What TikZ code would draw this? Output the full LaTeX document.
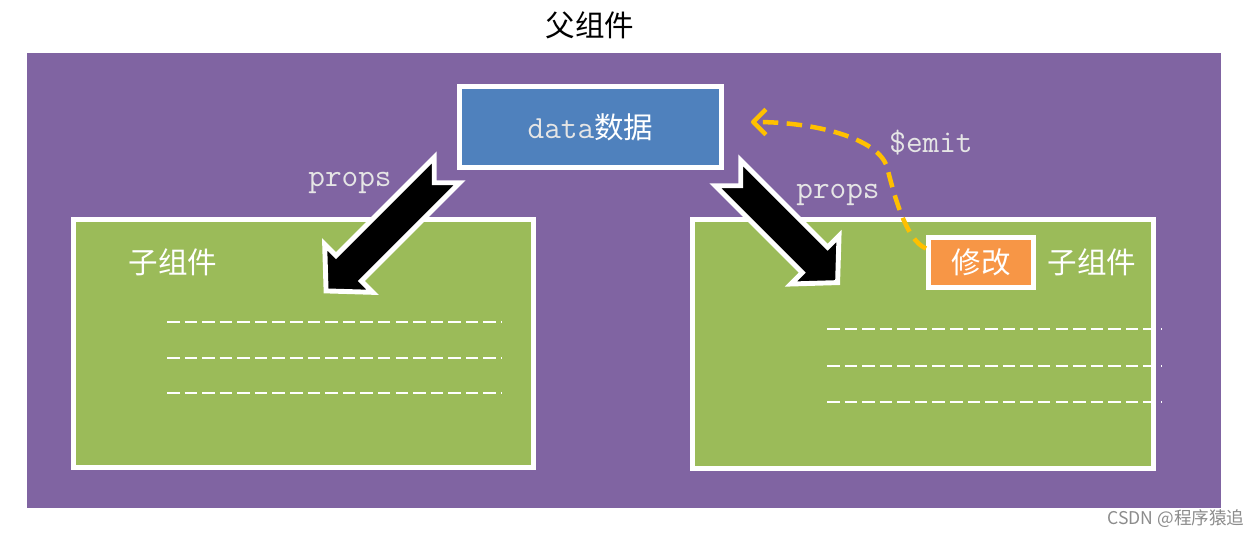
\documentclass[tikz,border=0pt]{standalone}
\usepackage{fontspec}
\newfontfamily\cjk{Noto Sans CJK SC}
\usetikzlibrary{arrows.meta,shadows,calc}

\definecolor{parentpurple}{HTML}{8064A2}
\definecolor{childgreen}{HTML}{9BBB59}
\definecolor{datablue}{HTML}{4F81BD}
\definecolor{fixorange}{HTML}{F79646}
\definecolor{emitgold}{HTML}{FFC000}

\begin{document}
\begin{tikzpicture}[x=0.025cm, y=-0.025cm,
  softshadow/.style={drop shadow={shadow xshift=1.5pt, shadow yshift=-1.5pt, opacity=.35, fill=black}},
  compbox/.style={draw=white, line width=3.5pt, fill=childgreen, minimum width=11.5cm, minimum height=6.2cm, softshadow},
  databox/.style={draw=white, line width=3.5pt, fill=datablue, minimum width=6.55cm, minimum height=2.025cm, text=white, softshadow},
  fixbox/.style={draw=white, line width=3.5pt, fill=fixorange, minimum width=2.625cm, minimum height=1.25cm, text=white, font=\cjk\fontsize{21}{25}\selectfont, softshadow},
  cjklabel/.style={text=white, font=\cjk\fontsize{21}{25}\selectfont},
  codelabel/.style={text=white!90!black, font=\ttfamily\fontsize{23}{27}\selectfont},
  rowline/.style={white, line width=1.3pt, dash pattern=on 8.9pt off 3.6pt},
  emitline/.style={emitgold, line width=3.2pt, dash pattern=on 11pt off 6pt, -{Straight Barb[length=9pt, width=18pt, line join=round]}},
  props arrow/.pic={
    \draw[white, line width=3.5pt, fill=black]
      (0,-18) -- (#1-32,-18) -- (#1-32,-34) -- (#1,0) -- (#1-32,34) -- (#1-32,18) -- (0,18) -- (18,0) -- cycle;
  }
]

% Page and parent area
\fill[white] (0,0) rectangle (1259,537);
\useasboundingbox (0,0) rectangle (1259,537);
\fill[parentpurple] (27,53) rectangle (1221,508);
\node[font=\cjk\fontsize{21}{25}\selectfont] (title) at (590,25) {父组件};

% Child components
\node[compbox] (lchild) at (303.5,343.5) {};
\node[compbox, minimum width=11.525cm, minimum height=6.225cm] (rchild) at (923,344) {};
\node[cjklabel] (ltitle) at (173,262) {子组件};
\node[cjklabel] (rtitle) at (1092,262) {子组件};

% Placeholder rows
\foreach \y in {322,358,393} {
  \draw[rowline] (167,\y) -- (501,\y);
}
\foreach \y in {329,366,402} {
  \draw[rowline] (827,\y) -- (1161,\y);
}

% Parent data
\node[databox] (data) at (590.5,127) {{\ttfamily\fontsize{23}{27}\selectfont\color{white!90!black}data}{\cjk\fontsize{21}{25}\selectfont 数据}};

% props arrows
\pic[rotate=225] at (447,170) {props arrow=171};
\pic[rotate=-45] at (728,173) {props arrow=155};
\node[codelabel] (lprops) at (350,183) {props};
\node[codelabel] (rprops) at (838,195) {props};

% $emit back to the parent
\node[fixbox] (modify) at (981,262.5) {修改};
\draw[emitline] ($(modify.west)+(0,-14)$) .. controls (905,240) and (893,190) .. (887,167)
  .. controls (878,138) and (815,122) .. ($(data.east)+(27,-5)$);
\node[codelabel] (emit) at (931,143) {\$emit};

% Watermark
\node[text=black!45, font=\cjk\fontsize{12.5}{15}\selectfont] (mark) at (1176,519) {CSDN @程序猿追};

\end{tikzpicture}
\end{document}
